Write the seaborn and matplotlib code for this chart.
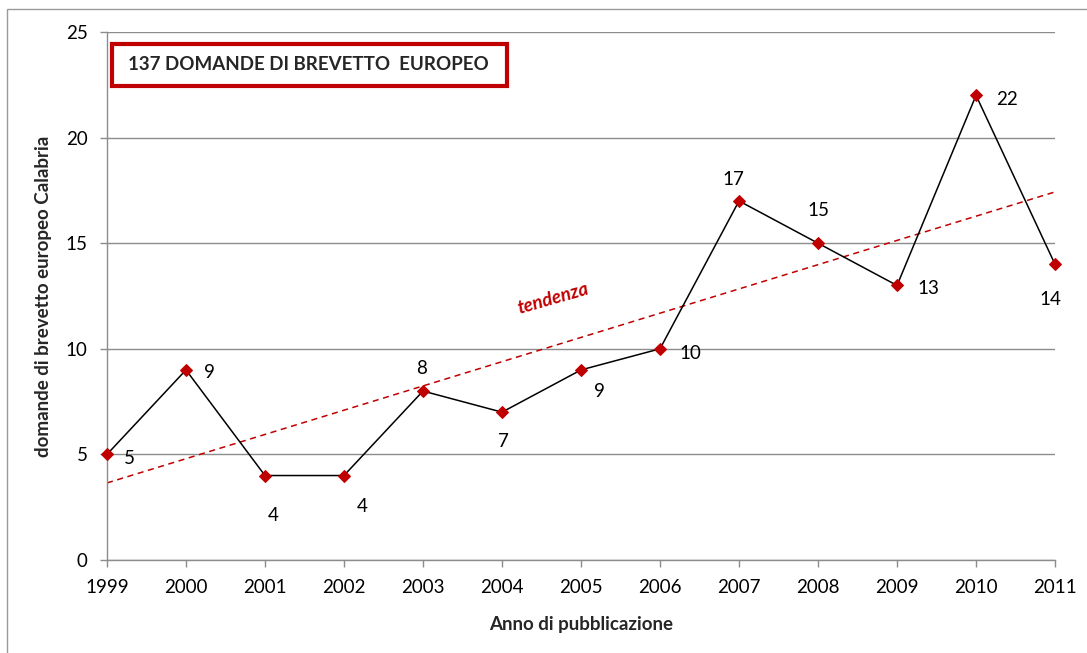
import numpy as np
import pandas as pd
import matplotlib
matplotlib.use("Agg")
import matplotlib.pyplot as plt
import seaborn as sns
from matplotlib.patches import Rectangle

anni = [1999, 2000, 2001, 2002, 2003, 2004, 2005, 2006, 2007, 2008, 2009, 2010, 2011]
domande = [5, 9, 4, 4, 8, 7, 9, 10, 17, 15, 13, 22, 14]
# label offsets in pixels (dx, dy) for each data label
offset_x = [22, 23, 8, 18, -1, 1, 18, 30, -6, 0, 31, 31, -5]
offset_y = [-4, -3, -40, -31, 23, -29, -22, -5, 21, 33, -3, -4, -35]

df = pd.DataFrame({"anno": anni, "domande": domande})

sns.set_style("white")
plt.rcParams["font.family"] = ["Lato", "DejaVu Sans"]

fig = plt.figure(figsize=(10.87, 6.53), dpi=100)
ax = fig.add_axes([0.0984, 0.1424, 0.8722, 0.8086])

red = "#C00000"
grid_c = "#8c8c8c"
fs = 13.5

ax.set_ylim(0, 25)
ax.set_xlim(1999, 2011)
ax.set_yticks([0, 5, 10, 15, 20, 25])
ax.set_xticks(anni)
ax.yaxis.grid(True, color=grid_c, linewidth=1)
ax.set_axisbelow(True)

# trend line (linear fit as in Excel)
coef = np.polyfit(np.arange(len(anni)), domande, 1)
trend = np.polyval(coef, np.arange(len(anni)))
ax.plot(anni, trend, linestyle=(0, (4, 3)), color=red, linewidth=1.1, zorder=2)

sns.lineplot(data=df, x="anno", y="domande", ax=ax, color="black", linewidth=1.1,
             marker="D", markersize=6, markerfacecolor=red, markeredgecolor=red,
             zorder=3, clip_on=False)

for x, y, dx, dy in zip(anni, domande, offset_x, offset_y):
    ax.annotate(str(y), (x, y), xytext=(dx, dy), textcoords="offset pixels",
                ha="center", va="center", fontsize=fs, color="black")

for s in ["top", "right"]:
    ax.spines[s].set_visible(False)
for s in ["left", "bottom"]:
    ax.spines[s].set_color(grid_c)
    ax.spines[s].set_linewidth(1)

ax.tick_params(axis="both", direction="out", length=5, width=1, color=grid_c,
               labelsize=fs, labelcolor="black", left=True, bottom=True)
ax.tick_params(axis="x", pad=9)
ax.tick_params(axis="y", pad=9)
ax.set_xlabel("Anno di pubblicazione", fontsize=fs, fontweight="bold", labelpad=14)
ax.set_ylabel("domande di brevetto europeo Calabria", fontsize=fs, fontweight="bold", labelpad=10)

ax.add_patch(Rectangle((0.0053, 0.8977), 0.4167, 0.0795, transform=ax.transAxes,
                       facecolor="white", edgecolor=red, linewidth=3, zorder=5))
ax.text(0.022, 0.9375, "137 DOMANDE DI BREVETTO  EUROPEO", transform=ax.transAxes,
        fontsize=fs, fontweight="bold", va="center", ha="left", zorder=6)

ax.text(2004.65, 12.4, "tendenza", color=red, fontsize=fs, fontweight="bold",
        fontstyle="italic", rotation=16, ha="center", va="center")

fig.patches.append(Rectangle((7 / 1087, -0.1), 1.2, 1 - 9 / 653 + 0.1, transform=fig.transFigure,
                             fill=False, edgecolor="#9a9a9a", linewidth=1))

fig.savefig("out.png", dpi=100)
